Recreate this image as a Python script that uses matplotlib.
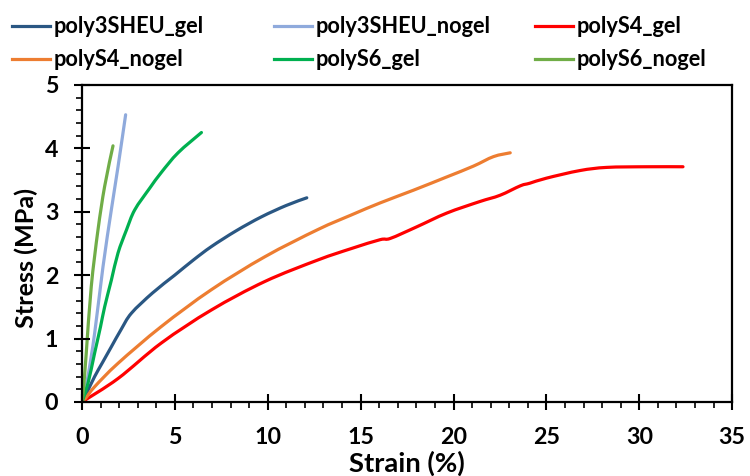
import matplotlib
matplotlib.use("Agg")
import matplotlib.pyplot as plt
from matplotlib.ticker import MultipleLocator
from matplotlib.path import Path
from matplotlib.patches import PathPatch
from matplotlib.lines import Line2D

# Stress-strain curves
sheu_gel_x = [0, 0.25, 0.68, 1.1, 1.58, 2.1, 2.66, 3.8, 4.99, 6.0, 6.96, 8.3, 9.66, 11.0, 12.1]
sheu_gel_y = [0, 0.14, 0.40, 0.62, 0.87, 1.14, 1.40, 1.72, 2.0, 2.24, 2.45, 2.70, 2.92, 3.10, 3.22]

sheu_nogel_x = [0, 0.1, 0.32, 0.68, 1.13, 1.58, 1.94, 2.35]
sheu_nogel_y = [0, 0.12, 0.40, 1.08, 2.13, 3.03, 3.71, 4.53]

s4_gel_x = [0, 1.94, 4.27, 6.96, 9.84, 12.7, 14.5, 16.05, 16.6, 18.0, 19.64,
            21.4, 22.5, 23.6, 24.1, 25.0, 26.8, 28.25, 30.4, 32.35]
s4_gel_y = [0, 0.37, 0.93, 1.45, 1.90, 2.24, 2.42, 2.56, 2.58, 2.76, 2.98,
            3.16, 3.26, 3.41, 3.45, 3.53, 3.65, 3.70, 3.71, 3.71]

s4_nogel_x = [0, 0.2, 0.68, 1.94, 4.27, 6.96, 9.84, 12.7, 14.5, 16.05, 17.84,
              19.64, 21.07, 22.15, 23.05]
s4_nogel_y = [0, 0.06, 0.24, 0.61, 1.19, 1.77, 2.29, 2.72, 2.95, 3.14, 3.34,
              3.55, 3.72, 3.87, 3.93]

s6_gel_x = [0, 0.32, 0.68, 1.0, 1.22, 1.58, 1.94, 2.39, 2.84, 3.64, 4.27, 5.17, 6.43]
s6_gel_y = [0, 0.29, 0.77, 1.19, 1.50, 1.92, 2.35, 2.71, 3.03, 3.37, 3.62, 3.93, 4.25]

s6_nogel_x = [0, 0.08, 0.23, 0.50, 0.86, 1.22, 1.67]
s6_nogel_y = [0, 0.2, 0.77, 1.82, 2.71, 3.40, 4.04]

series = [
    ("poly3SHEU_gel", sheu_gel_x, sheu_gel_y, "#2A5783"),
    ("poly3SHEU_nogel", sheu_nogel_x, sheu_nogel_y, "#8FAADC"),
    ("polyS4_gel", s4_gel_x, s4_gel_y, "#FF0000"),
    ("polyS4_nogel", s4_nogel_x, s4_nogel_y, "#ED7D31"),
    ("polyS6_gel", s6_gel_x, s6_gel_y, "#00B050"),
    ("polyS6_nogel", s6_nogel_x, s6_nogel_y, "#70AD47"),
]

plt.rcParams['font.family'] = ['Lato', 'DejaVu Sans']
plt.rcParams['font.weight'] = 'bold'

fig = plt.figure(figsize=(7.5, 4.76), dpi=100)
renderer = fig.canvas.get_renderer()


def size_for_width(text, width_px):
    # font size (pt) that makes the bold text about width_px wide
    t = fig.text(0, 0, text, fontsize=10, fontweight='bold')
    w = t.get_window_extent(renderer).width
    t.remove()
    return 10 * width_px / w


def smooth_path(xs, ys):
    # excel-style smoothed line: bezier segments through the read points
    pts = list(zip(xs, ys))
    verts = [pts[0]]
    codes = [Path.MOVETO]
    n = len(pts)
    for i in range(n - 1):
        p0 = pts[max(i - 1, 0)]
        p1 = pts[i]
        p2 = pts[i + 1]
        p3 = pts[min(i + 2, n - 1)]
        c1 = (p1[0] + (p2[0] - p0[0]) / 6, p1[1] + (p2[1] - p0[1]) / 6)
        c2 = (p2[0] - (p3[0] - p1[0]) / 6, p2[1] - (p3[1] - p1[1]) / 6)
        verts += [c1, c2, p2]
        codes += [Path.CURVE4] * 3
    return Path(verts, codes)


leg_size = size_for_width("poly3SHEU_gel", 151)
tick_size = size_for_width("30", 27)
xlab_size = size_for_width("Strain (%)", 116)
ylab_size = size_for_width("Stress (MPa)", 140)

ax = fig.add_axes([0.1093, 0.1555, 0.867, 0.666])

handles = []
for name, xs, ys, col in series:
    ax.add_patch(PathPatch(smooth_path(xs, ys), facecolor='none', edgecolor=col,
                           lw=2.3, capstyle='round', joinstyle='round'))
    handles.append(Line2D([], [], color=col, lw=2.3, label=name))

ax.set_xlim(0, 35)
ax.set_ylim(0, 5)
ax.xaxis.set_major_locator(MultipleLocator(5))
ax.xaxis.set_minor_locator(MultipleLocator(1))
ax.yaxis.set_major_locator(MultipleLocator(1))
ax.yaxis.set_minor_locator(MultipleLocator(0.2))
ax.tick_params(which='major', direction='inout', length=12, width=1.5,
               labelsize=tick_size)
ax.tick_params(axis='x', which='major', pad=12)
ax.tick_params(axis='y', which='major', pad=11)
ax.tick_params(which='minor', direction='out', length=4.5, width=1.2)
for sp in ax.spines.values():
    sp.set_linewidth(1.6)

ax_h = 0.666 * 476
ax_w = 0.867 * 750
ax.set_xlabel("Strain (%)", fontsize=xlab_size, fontweight='bold')
ax.xaxis.set_label_coords(0.5, -(451 - 402) / ax_h)
ax.set_ylabel("Stress (MPa)", fontsize=ylab_size, fontweight='bold')
ax.yaxis.set_label_coords(-(82 - 38) / ax_w, 0.455)

# legend laid out row-wise as in the reference: one legend per column
col_x = [12, 274, 535]
for i, x0 in enumerate(col_x):
    fig.legend(handles=[handles[i], handles[i + 3]], loc='upper left',
               bbox_to_anchor=(x0 / 750, 0.966), frameon=False,
               prop={'weight': 'bold', 'size': leg_size}, handlelength=1.75,
               handletextpad=0.15, labelspacing=0.55, borderpad=0,
               borderaxespad=0)

fig.savefig("out.png", dpi=100)
